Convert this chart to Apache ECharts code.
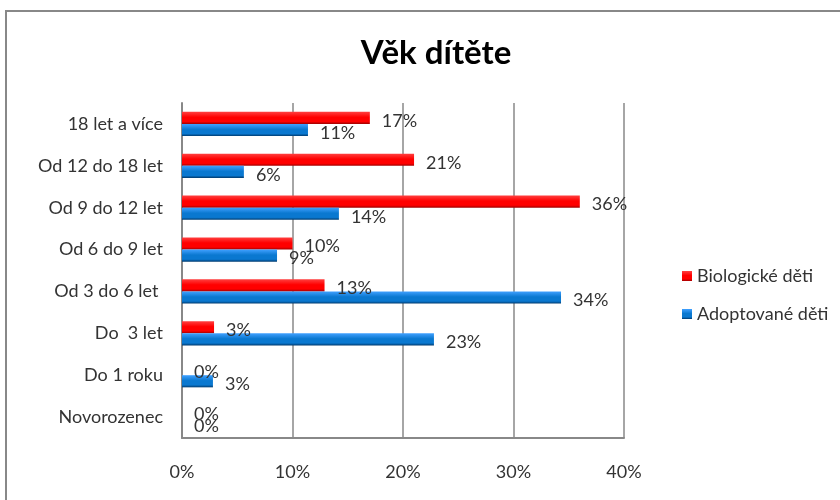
<!DOCTYPE html>
<html>
<head>
<meta charset="utf-8">
<script src="https://cdn.jsdelivr.net/npm/echarts@6/dist/echarts.min.js"></script>
<style>
html,body{margin:0;padding:0;background:#fff;}
#chart{width:840px;height:500px;}
</style>
</head>
<body>
<div id="chart"></div>
<script>
const titleText = 'Věk dítěte';
const categories = ['18 let a více', 'Od 12 do 18 let', 'Od 9 do 12 let', 'Od 6 do 9 let', 'Od 3 do 6 let ', 'Do  3 let', 'Do 1 roku', 'Novorozenec'];
const seriesNames = ['Biologické děti', 'Adoptované děti'];
const biologicke = [17.0, 21.0, 36.0, 10.0, 12.9, 2.9, 0, 0];
const adoptovane = [11.4, 5.6, 14.2, 8.6, 34.3, 22.8, 2.8, 0];
const xTicks = [0, 10, 20, 30, 40];

const FONT = 'Lato';
const chart = echarts.init(document.getElementById('chart'));

function grad(top, mid, bottom) {
  return new echarts.graphic.LinearGradient(0, 0, 0, 1, [
    {offset: 0, color: top},
    {offset: 0.45, color: mid},
    {offset: 0.8, color: mid},
    {offset: 1, color: bottom}
  ]);
}

const labelCfg = {
  show: true,
  position: 'right',
  distance: 12,
  offset: [0, 3],
  fontFamily: FONT,
  fontSize: 18,
  color: '#333',
  formatter: p => Math.round(p.value) + '%'
};

chart.setOption({
  animation: false,
  title: {
    text: titleText,
    left: 431,
    textAlign: 'center',
    top: 32,
    textStyle: {fontFamily: FONT, fontSize: 33, fontWeight: 'bold', color: '#000'}
  },
  legend: {
    data: seriesNames,
    orient: 'vertical',
    left: 677,
    top: 262,
    itemWidth: 10,
    itemHeight: 10,
    itemGap: 20,
    icon: 'rect',
    textStyle: {fontFamily: FONT, fontSize: 18, color: '#333'}
  },
  grid: {left: 182, right: 216, top: 103, bottom: 62},
  xAxis: {
    type: 'value',
    min: xTicks[0],
    max: xTicks[xTicks.length - 1],
    interval: 10,
    axisLine: {show: true, lineStyle: {color: '#888', width: 2}},
    axisTick: {show: false},
    splitLine: {show: true, lineStyle: {color: '#888', width: 1.5}},
    axisLabel: {
      margin: 25,
      fontFamily: FONT, fontSize: 18, color: '#333',
      formatter: v => v + '%'
    }
  },
  yAxis: {
    type: 'category',
    data: categories,
    inverse: true,
    axisLine: {show: true, lineStyle: {color: '#888', width: 2}},
    axisTick: {show: false},
    axisLabel: {margin: 19, fontFamily: FONT, fontSize: 18, color: '#333'}
  },
  series: [
    {
      name: seriesNames[0],
      type: 'bar',
      data: biologicke,
      barGap: '0%',
      barCategoryGap: '42%',
      itemStyle: {color: grad('#ff4040', '#ff0000', '#a00000')},
      label: labelCfg
    },
    {
      name: seriesNames[1],
      type: 'bar',
      data: adoptovane,
      barGap: '0%',
      barCategoryGap: '42%',
      itemStyle: {color: grad('#40a0ff', '#0a78d0', '#003a6e')},
      label: labelCfg
    }
  ],
  graphic: [{
    type: 'rect',
    shape: {x: 6, y: 11, width: 860, height: 600},
    style: {fill: 'none', stroke: '#888', lineWidth: 2},
    silent: true
  }]
});
</script>
</body>
</html>
